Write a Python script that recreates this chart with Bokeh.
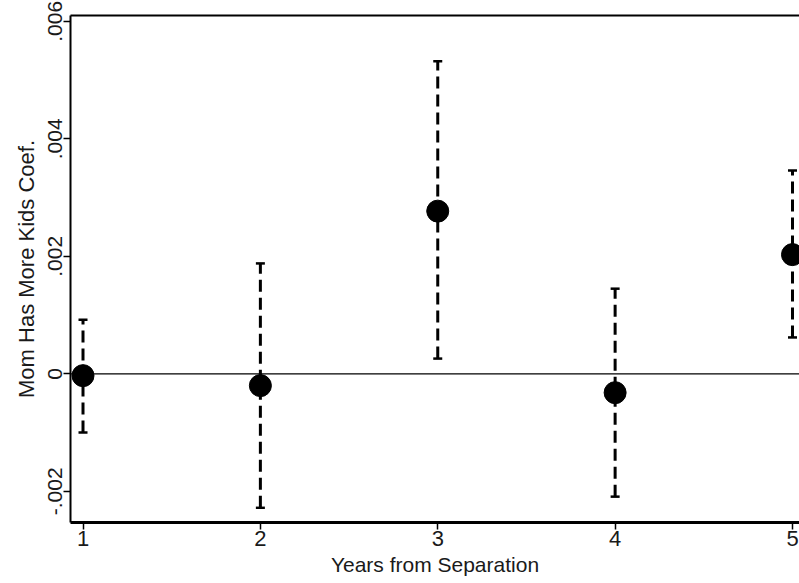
from bokeh.plotting import figure
from bokeh.models import (ColumnDataSource, Whisker, TeeHead, Span, FixedTicker,
                          LinearAxis, Range1d)
from bokeh.embed import file_html
from bokeh.resources import INLINE

years = [1, 2, 3, 4, 5]
coef = [-0.00003, -0.00020, 0.00277, -0.00032, 0.00203]
upper = [0.00092, 0.00188, 0.00532, 0.00145, 0.00346]
lower = [-0.00100, -0.00228, 0.00026, -0.00209, 0.00062]
x_ticks = [1, 2, 3, 4, 5]
y_ticks = [-0.002, 0.0, 0.002, 0.004, 0.006]
y_tick_labels = ["-.002", "0", ".002", ".004", ".006"]

FONT = "Liberation Sans"
TXT = "#1a1a1a"

src = ColumnDataSource(dict(x=years, y=coef, upper=upper, lower=lower))

p = figure(width=799, height=583, output_backend="svg", toolbar_location=None,
           x_range=Range1d(0.9295, 5.0395), y_range=Range1d(-0.00253, 0.0061),
           min_border_left=70, min_border_right=0, min_border_top=15,
           min_border_bottom=61)
p.outline_line_color = None
p.grid.visible = False
p.background_fill_color = "white"
p.border_fill_color = "white"

# zero line
p.add_layout(Span(location=0, dimension="width", line_color="black", line_width=1.3))

w = Whisker(source=src, base="x", upper="upper", lower="lower",
            line_color="black", line_width=3, line_dash="12 6",
            upper_head=TeeHead(size=9, line_width=2.5, line_color="black"),
            lower_head=TeeHead(size=9, line_width=2.5, line_color="black"))
p.add_layout(w)

p.scatter("x", "y", source=src, size=22, color="black")

# x axis
xa = p.xaxis[0]
xa.ticker = FixedTicker(ticks=x_ticks)
xa.axis_label = "Years from Separation"
xa.axis_line_width = 3
xa.major_tick_out = 7
xa.major_tick_in = 0
xa.major_tick_line_width = 1.5
xa.minor_tick_line_color = None
xa.major_label_text_font = FONT
xa.major_label_text_font_size = "22px"
xa.major_label_text_color = TXT
xa.major_label_standoff = 1
xa.axis_label_text_font = FONT
xa.axis_label_text_font_size = "21px"
xa.axis_label_text_font_style = "normal"
xa.axis_label_text_color = TXT
xa.axis_label_standoff = 4

# y axis
ya = p.yaxis[0]
ya.ticker = FixedTicker(ticks=y_ticks)
ya.major_label_overrides = {t: l for t, l in zip(y_ticks, y_tick_labels)}
ya.major_label_orientation = "vertical"
ya.axis_label = "Mom Has More Kids Coef."
ya.axis_line_width = 2
ya.major_tick_out = 7
ya.major_tick_in = 0
ya.major_tick_line_width = 1.5
ya.minor_tick_line_color = None
ya.major_label_text_font = FONT
ya.major_label_text_font_size = "21px"
ya.major_label_text_color = TXT
ya.major_label_standoff = 1
ya.axis_label_text_font = FONT
ya.axis_label_text_font_size = "22px"
ya.axis_label_text_font_style = "normal"
ya.axis_label_text_color = TXT
ya.axis_label_standoff = 7

# top border as an axis line
top = LinearAxis(ticker=FixedTicker(ticks=[]), axis_line_width=2,
                 major_label_text_font_size="0px", major_tick_line_color=None,
                 minor_tick_line_color=None)
p.add_layout(top, "above")

open("out.html", "w").write(file_html(p, INLINE))
